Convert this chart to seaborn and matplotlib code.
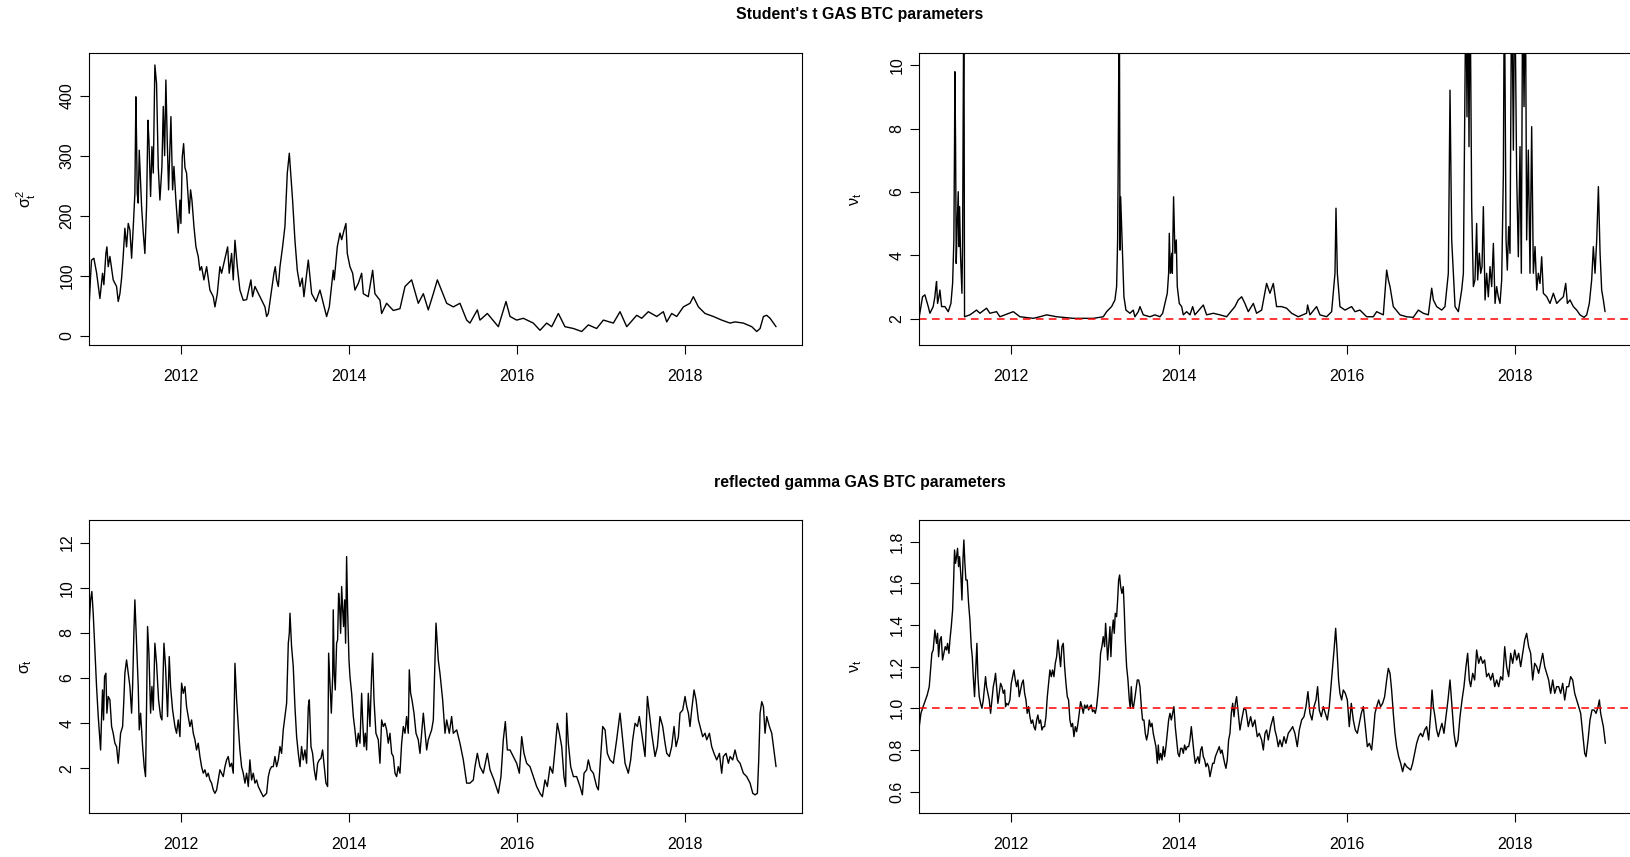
import numpy as np
import pandas as pd
import matplotlib
matplotlib.use("Agg")
import matplotlib.pyplot as plt
import seaborn as sns

# ---------------- data (decimal year, value) ----------------
TITLE_TOP = "Student's t GAS BTC parameters"
TITLE_BOTTOM = "reflected gamma GAS BTC parameters"
YEAR_TICKS = [2012, 2014, 2016, 2018]

# Student's t: sigma_t^2
T_SIGMA2 = [
    (2010.913, 54), (2010.929, 100), (2010.940, 126), (2010.968, 129), (2011.000, 105), (2011.040, 62), (2011.071, 104), (2011.087, 85), (2011.111, 137), (2011.123, 148),
    (2011.139, 115), (2011.159, 132), (2011.198, 93), (2011.238, 82), (2011.258, 57), (2011.278, 70), (2011.298, 96), (2011.317, 132), (2011.337, 179), (2011.357, 148),
    (2011.377, 187), (2011.397, 176), (2011.417, 129), (2011.437, 182), (2011.456, 237), (2011.468, 398), (2011.476, 326), (2011.484, 237), (2011.496, 221), (2011.508, 309),
    (2011.536, 215), (2011.556, 171), (2011.575, 137), (2011.595, 215), (2011.611, 359), (2011.623, 326), (2011.643, 232), (2011.659, 315), (2011.675, 271), (2011.694, 451),
    (2011.714, 420), (2011.734, 282), (2011.754, 226), (2011.778, 282), (2011.794, 382), (2011.810, 300), (2011.825, 426), (2011.841, 326), (2011.857, 243), (2011.885, 365),
    (2011.905, 243), (2011.921, 282), (2011.944, 226), (2011.972, 171), (2011.992, 226), (2012.004, 187), (2012.020, 298), (2012.036, 320), (2012.052, 280), (2012.071, 271),
    (2012.103, 204), (2012.119, 243), (2012.135, 226), (2012.159, 182), (2012.183, 148), (2012.210, 132), (2012.230, 109), (2012.250, 115), (2012.278, 93), (2012.310, 115),
    (2012.349, 76), (2012.389, 65), (2012.409, 48), (2012.437, 70), (2012.468, 115), (2012.488, 104), (2012.560, 148), (2012.579, 104), (2012.607, 137), (2012.627, 93),
    (2012.647, 159), (2012.675, 115), (2012.706, 76), (2012.746, 59), (2012.786, 60), (2012.837, 93), (2012.857, 65), (2012.885, 82), (2012.944, 65), (2013.004, 48),
    (2013.024, 32), (2013.044, 37), (2013.083, 76), (2013.111, 104), (2013.127, 115), (2013.143, 93), (2013.163, 82), (2013.183, 115), (2013.214, 148), (2013.242, 182),
    (2013.270, 271), (2013.294, 304), (2013.310, 271), (2013.333, 226), (2013.361, 159), (2013.389, 109), (2013.421, 82), (2013.448, 96), (2013.468, 65), (2013.520, 126),
    (2013.560, 70), (2013.611, 57), (2013.659, 76), (2013.679, 65), (2013.738, 32), (2013.770, 48), (2013.817, 109), (2013.829, 93), (2013.865, 148), (2013.897, 171),
    (2013.917, 160), (2013.944, 175), (2013.968, 187), (2013.984, 137), (2014.016, 115), (2014.048, 104), (2014.075, 76), (2014.115, 87), (2014.155, 104), (2014.175, 70),
    (2014.234, 65), (2014.286, 109), (2014.313, 70), (2014.373, 59), (2014.393, 37), (2014.452, 54), (2014.532, 42), (2014.611, 45), (2014.671, 82), (2014.750, 93),
    (2014.829, 54), (2014.889, 70), (2014.948, 43), (2015.008, 70), (2015.056, 93), (2015.087, 82), (2015.167, 54), (2015.246, 48), (2015.325, 54), (2015.405, 26),
    (2015.444, 21), (2015.532, 43), (2015.563, 26), (2015.651, 37), (2015.782, 15), (2015.873, 57), (2015.921, 32), (2016.000, 26), (2016.079, 29), (2016.198, 21),
    (2016.278, 9), (2016.357, 21), (2016.417, 15), (2016.496, 37), (2016.575, 15), (2016.675, 12), (2016.774, 7), (2016.853, 18), (2016.952, 12), (2017.032, 26),
    (2017.151, 21), (2017.230, 40), (2017.310, 15), (2017.429, 34), (2017.488, 29), (2017.567, 40), (2017.667, 32), (2017.746, 40), (2017.786, 23), (2017.845, 37),
    (2017.905, 32), (2017.984, 48), (2018.063, 54), (2018.103, 65), (2018.163, 48), (2018.242, 37), (2018.341, 32), (2018.440, 26), (2018.540, 21), (2018.599, 23),
    (2018.698, 21), (2018.798, 15), (2018.857, 7), (2018.897, 12), (2018.937, 32), (2018.976, 34), (2019.016, 29), (2019.087, 15),
]

# Student's t: nu_t (values above the axis limit are clipped in the reference)
T_NU = [
    (2010.913, 2.07), (2010.952, 2.70), (2010.980, 2.76), (2011.020, 2.39), (2011.040, 2.18), (2011.079, 2.39), (2011.099, 2.70), (2011.111, 3.02), (2011.119, 3.18), (2011.131, 2.49),
    (2011.147, 2.70), (2011.159, 2.91), (2011.179, 2.39), (2011.218, 2.39), (2011.258, 2.23), (2011.290, 2.49), (2011.310, 3.12), (2011.325, 4.49), (2011.333, 7.64), (2011.337, 9.79),
    (2011.345, 7.64), (2011.353, 3.75), (2011.365, 5.01), (2011.377, 6.01), (2011.385, 4.28), (2011.393, 5.54), (2011.405, 3.96), (2011.421, 2.81), (2011.429, 4.49), (2011.437, 8.69),
    (2011.444, 13.0), (2011.452, 2.07), (2011.516, 2.13), (2011.595, 2.28), (2011.635, 2.18), (2011.714, 2.34), (2011.754, 2.18), (2011.833, 2.23), (2011.873, 2.07), (2012.032, 2.23),
    (2012.111, 2.07), (2012.270, 2.02), (2012.349, 2.07), (2012.429, 2.13), (2012.548, 2.07), (2012.746, 2.02), (2012.984, 2.02), (2013.103, 2.07), (2013.143, 2.23), (2013.202, 2.39),
    (2013.242, 2.60), (2013.262, 3.02), (2013.274, 4.49), (2013.282, 7.32), (2013.294, 13.0), (2013.302, 4.17), (2013.310, 5.85), (2013.333, 3.96), (2013.349, 2.70), (2013.373, 2.28),
    (2013.421, 2.18), (2013.460, 2.28), (2013.480, 2.07), (2013.520, 2.23), (2013.540, 2.39), (2013.579, 2.13), (2013.659, 2.07), (2013.718, 2.13), (2013.778, 2.07), (2013.810, 2.18),
    (2013.837, 2.49), (2013.865, 2.81), (2013.881, 3.44), (2013.889, 4.70), (2013.901, 3.44), (2013.917, 4.07), (2013.925, 3.44), (2013.940, 5.85), (2013.956, 4.07), (2013.972, 4.49),
    (2013.984, 3.02), (2014.008, 2.49), (2014.036, 2.39), (2014.056, 2.13), (2014.095, 2.23), (2014.135, 2.13), (2014.167, 2.39), (2014.194, 2.13), (2014.294, 2.44), (2014.333, 2.13),
    (2014.413, 2.18), (2014.492, 2.13), (2014.571, 2.07), (2014.670, 2.39), (2014.710, 2.60), (2014.750, 2.70), (2014.789, 2.49), (2014.829, 2.23), (2014.889, 2.49), (2014.928, 2.18),
    (2014.988, 2.28), (2015.047, 3.12), (2015.087, 2.81), (2015.127, 3.12), (2015.166, 2.39), (2015.226, 2.39), (2015.285, 2.34), (2015.345, 2.18), (2015.424, 2.07), (2015.523, 2.18),
    (2015.535, 2.44), (2015.563, 2.13), (2015.642, 2.39), (2015.682, 2.13), (2015.761, 2.07), (2015.821, 2.23), (2015.861, 3.44), (2015.873, 5.49), (2015.889, 3.44), (2015.920, 2.39),
    (2015.980, 2.28), (2016.059, 2.39), (2016.099, 2.23), (2016.158, 2.28), (2016.238, 2.07), (2016.317, 2.07), (2016.357, 2.23), (2016.436, 2.13), (2016.476, 3.54), (2016.496, 3.23),
    (2016.516, 3.02), (2016.555, 2.39), (2016.635, 2.13), (2016.714, 2.07), (2016.793, 2.05), (2016.853, 2.28), (2016.912, 2.18), (2016.972, 2.13), (2017.012, 2.97), (2017.032, 2.60),
    (2017.071, 2.39), (2017.131, 2.28), (2017.170, 2.39), (2017.210, 3.44), (2017.230, 9.21), (2017.250, 4.49), (2017.290, 2.39), (2017.329, 2.23), (2017.369, 2.91), (2017.389, 3.44),
    (2017.420, 13.0), (2017.432, 8.37), (2017.444, 13.0), (2017.456, 7.43), (2017.468, 13.0), (2017.488, 5.54), (2017.508, 3.02), (2017.527, 3.23), (2017.547, 5.01), (2017.559, 3.23),
    (2017.579, 4.07), (2017.595, 3.44), (2017.611, 3.65), (2017.627, 5.54), (2017.647, 2.60), (2017.666, 3.44), (2017.686, 2.70), (2017.706, 3.65), (2017.726, 3.02), (2017.746, 4.38),
    (2017.766, 2.49), (2017.785, 3.02), (2017.805, 2.70), (2017.825, 2.49), (2017.845, 3.23), (2017.865, 6.59), (2017.877, 13.0), (2017.897, 4.49), (2017.912, 3.54), (2017.928, 4.91),
    (2017.944, 4.07), (2017.964, 13.0), (2017.984, 7.32), (2018.000, 13.0), (2018.023, 6.59), (2018.043, 3.96), (2018.063, 7.43), (2018.079, 3.44), (2018.095, 13.0), (2018.111, 8.69),
    (2018.127, 13.0), (2018.142, 4.49), (2018.162, 7.32), (2018.182, 3.44), (2018.202, 8.06), (2018.222, 3.44), (2018.242, 4.28), (2018.262, 2.91), (2018.281, 3.44), (2018.301, 3.12),
    (2018.321, 3.96), (2018.341, 2.81), (2018.381, 2.70), (2018.420, 2.49), (2018.460, 2.81), (2018.500, 2.49), (2018.539, 2.60), (2018.579, 2.70), (2018.607, 3.12), (2018.627, 2.49),
    (2018.658, 2.60), (2018.698, 2.39), (2018.738, 2.28), (2018.777, 2.13), (2018.825, 2.05), (2018.857, 2.13), (2018.888, 2.49), (2018.916, 3.23), (2018.936, 4.28), (2018.956, 3.44),
    (2018.976, 4.49), (2018.996, 6.17), (2019.016, 4.07), (2019.035, 2.91), (2019.055, 2.60), (2019.075, 2.23),
]

# reflected gamma: sigma_t
G_SIGMA = [
    (2010.913, 8.43), (2010.929, 9.46), (2010.944, 9.83), (2010.960, 8.87), (2010.980, 7.24), (2011.000, 5.62), (2011.020, 4.29), (2011.040, 3.26), (2011.048, 2.81), (2011.060, 4.29),
    (2011.071, 5.47), (2011.083, 4.14), (2011.095, 6.06), (2011.111, 6.21), (2011.123, 4.44), (2011.139, 5.18), (2011.159, 5.03), (2011.179, 3.85), (2011.198, 3.55), (2011.218, 3.11),
    (2011.238, 2.96), (2011.258, 2.22), (2011.270, 2.81), (2011.286, 3.55), (2011.310, 3.85), (2011.325, 5.03), (2011.337, 6.21), (2011.357, 6.80), (2011.377, 6.21), (2011.397, 5.62),
    (2011.417, 4.44), (2011.429, 5.62), (2011.444, 7.98), (2011.456, 9.46), (2011.476, 7.54), (2011.496, 5.62), (2011.508, 3.70), (2011.524, 4.44), (2011.548, 2.96), (2011.567, 2.07),
    (2011.583, 1.63), (2011.595, 4.73), (2011.607, 8.28), (2011.623, 7.10), (2011.643, 4.44), (2011.659, 5.62), (2011.675, 4.58), (2011.694, 7.54), (2011.714, 6.65), (2011.738, 5.03),
    (2011.762, 4.29), (2011.778, 4.14), (2011.802, 7.54), (2011.821, 6.51), (2011.845, 4.29), (2011.865, 6.95), (2011.881, 5.62), (2011.905, 4.58), (2011.933, 3.85), (2011.952, 3.55),
    (2011.972, 4.14), (2011.992, 3.40), (2012.012, 5.77), (2012.032, 5.32), (2012.052, 5.62), (2012.071, 4.73), (2012.091, 4.29), (2012.111, 3.85), (2012.131, 4.14), (2012.151, 3.55),
    (2012.171, 3.26), (2012.190, 2.81), (2012.210, 3.11), (2012.230, 2.52), (2012.250, 2.07), (2012.270, 1.78), (2012.290, 1.93), (2012.310, 1.63), (2012.329, 1.78), (2012.349, 1.48),
    (2012.369, 1.34), (2012.389, 1.04), (2012.409, 0.89), (2012.429, 1.04), (2012.448, 1.48), (2012.468, 1.93), (2012.488, 1.78), (2012.508, 1.63), (2012.528, 2.07), (2012.548, 2.37),
    (2012.567, 2.52), (2012.587, 2.07), (2012.607, 2.22), (2012.627, 1.78), (2012.647, 6.65), (2012.667, 5.03), (2012.687, 3.85), (2012.706, 2.81), (2012.726, 2.07), (2012.746, 1.78),
    (2012.766, 1.34), (2012.786, 1.78), (2012.806, 1.19), (2012.825, 2.37), (2012.845, 1.48), (2012.865, 1.78), (2012.885, 1.34), (2012.905, 1.48), (2012.925, 1.19), (2012.944, 1.04),
    (2012.984, 0.74), (2013.024, 0.89), (2013.044, 1.63), (2013.063, 1.93), (2013.083, 2.07), (2013.103, 2.07), (2013.123, 2.52), (2013.143, 2.07), (2013.163, 2.37), (2013.183, 2.96),
    (2013.202, 2.66), (2013.222, 3.70), (2013.242, 4.29), (2013.262, 4.88), (2013.282, 7.54), (2013.294, 7.98), (2013.302, 8.87), (2013.321, 7.39), (2013.341, 6.51), (2013.361, 4.73),
    (2013.381, 3.40), (2013.401, 2.66), (2013.421, 2.07), (2013.440, 2.96), (2013.460, 2.37), (2013.480, 2.81), (2013.500, 2.22), (2013.520, 4.73), (2013.532, 5.03), (2013.552, 2.96),
    (2013.571, 2.66), (2013.591, 1.93), (2013.611, 1.48), (2013.631, 2.22), (2013.651, 2.37), (2013.671, 2.44), (2013.690, 2.81), (2013.710, 2.07), (2013.730, 1.34), (2013.750, 1.19),
    (2013.762, 7.10), (2013.778, 5.77), (2013.794, 4.44), (2013.810, 6.06), (2013.817, 9.02), (2013.829, 6.21), (2013.841, 5.47), (2013.857, 7.54), (2013.869, 7.69), (2013.881, 9.75),
    (2013.893, 9.16), (2013.905, 7.98), (2013.917, 10.05), (2013.929, 9.02), (2013.940, 8.28), (2013.952, 9.46), (2013.964, 7.54), (2013.976, 11.38), (2013.988, 9.02), (2014.004, 6.80),
    (2014.016, 6.06), (2014.036, 5.32), (2014.056, 4.29), (2014.075, 3.70), (2014.095, 2.96), (2014.115, 3.55), (2014.135, 3.11), (2014.155, 5.32), (2014.167, 4.14), (2014.183, 2.96),
    (2014.198, 3.55), (2014.214, 2.81), (2014.234, 5.32), (2014.254, 3.85), (2014.274, 6.21), (2014.286, 7.10), (2014.302, 5.03), (2014.325, 3.55), (2014.353, 3.26), (2014.373, 2.22),
    (2014.393, 4.14), (2014.413, 3.85), (2014.433, 3.99), (2014.452, 3.70), (2014.472, 3.11), (2014.492, 3.55), (2014.512, 2.66), (2014.532, 2.52), (2014.552, 1.78), (2014.571, 1.63),
    (2014.591, 2.07), (2014.611, 1.78), (2014.631, 3.11), (2014.651, 3.85), (2014.671, 3.55), (2014.690, 4.29), (2014.710, 3.55), (2014.722, 6.36), (2014.738, 5.32), (2014.754, 5.03),
    (2014.778, 4.44), (2014.802, 3.55), (2014.829, 3.26), (2014.849, 2.66), (2014.869, 3.55), (2014.889, 4.44), (2014.929, 2.81), (2014.948, 3.26), (2014.988, 3.70), (2015.008, 4.14),
    (2015.040, 8.43), (2015.067, 6.80), (2015.087, 6.21), (2015.119, 5.03), (2015.147, 3.55), (2015.167, 4.14), (2015.198, 3.55), (2015.226, 4.29), (2015.246, 3.55), (2015.286, 3.70),
    (2015.325, 3.11), (2015.365, 2.37), (2015.405, 1.34), (2015.444, 1.34), (2015.484, 1.48), (2015.504, 2.07), (2015.532, 2.66), (2015.563, 2.07), (2015.603, 1.78), (2015.651, 2.66),
    (2015.683, 1.93), (2015.730, 1.48), (2015.782, 0.89), (2015.813, 1.63), (2015.841, 3.26), (2015.865, 4.07), (2015.889, 2.81), (2015.921, 2.81), (2015.960, 2.52), (2016.000, 2.22),
    (2016.032, 1.78), (2016.060, 3.40), (2016.087, 2.66), (2016.119, 2.22), (2016.159, 2.07), (2016.198, 1.63), (2016.238, 1.19), (2016.278, 0.89), (2016.306, 0.74), (2016.337, 1.48),
    (2016.365, 1.19), (2016.397, 2.07), (2016.429, 1.78), (2016.456, 2.81), (2016.484, 3.99), (2016.508, 3.55), (2016.536, 2.96), (2016.563, 1.63), (2016.583, 1.19), (2016.595, 4.44),
    (2016.615, 3.11), (2016.643, 2.07), (2016.675, 1.63), (2016.714, 1.63), (2016.754, 1.19), (2016.782, 0.82), (2016.802, 1.78), (2016.833, 1.93), (2016.853, 2.37), (2016.881, 1.93),
    (2016.913, 1.78), (2016.952, 1.19), (2016.972, 1.04), (2016.992, 2.07), (2017.024, 3.85), (2017.052, 3.70), (2017.079, 2.66), (2017.111, 2.37), (2017.151, 2.22), (2017.190, 3.26),
    (2017.230, 4.44), (2017.262, 3.26), (2017.290, 2.22), (2017.329, 1.78), (2017.357, 2.37), (2017.381, 3.26), (2017.409, 3.99), (2017.437, 3.85), (2017.460, 4.29), (2017.488, 3.55),
    (2017.528, 2.52), (2017.556, 5.18), (2017.579, 4.44), (2017.607, 3.55), (2017.647, 2.52), (2017.675, 2.96), (2017.706, 4.29), (2017.738, 3.85), (2017.766, 3.11), (2017.786, 2.66),
    (2017.817, 2.52), (2017.845, 2.96), (2017.873, 3.85), (2017.897, 2.96), (2017.925, 3.40), (2017.944, 4.44), (2017.976, 4.58), (2018.004, 5.18), (2018.024, 4.73), (2018.044, 4.44),
    (2018.063, 3.85), (2018.083, 4.58), (2018.111, 5.47), (2018.135, 5.03), (2018.163, 4.14), (2018.183, 3.85), (2018.214, 3.40), (2018.242, 3.55), (2018.262, 3.26), (2018.294, 3.55),
    (2018.321, 2.96), (2018.349, 2.66), (2018.381, 2.37), (2018.413, 2.66), (2018.440, 1.78), (2018.460, 2.52), (2018.492, 2.66), (2018.520, 2.22), (2018.540, 2.52), (2018.571, 2.37),
    (2018.599, 2.81), (2018.627, 2.37), (2018.659, 2.22), (2018.698, 1.78), (2018.738, 1.63), (2018.778, 1.34), (2018.810, 0.89), (2018.837, 0.82), (2018.865, 0.89), (2018.881, 2.37),
    (2018.897, 4.44), (2018.917, 4.95), (2018.937, 4.73), (2018.956, 3.55), (2018.976, 4.29), (2019.008, 3.85), (2019.036, 3.55), (2019.056, 2.96), (2019.087, 2.07),
]

# reflected gamma: nu_t
G_NU = [
    (2010.913, 0.912), (2010.933, 0.976), (2010.952, 1.000), (2010.980, 1.032), (2011.008, 1.064), (2011.032, 1.104), (2011.048, 1.184), (2011.063, 1.264), (2011.079, 1.280), (2011.099, 1.376),
    (2011.119, 1.312), (2011.131, 1.360), (2011.143, 1.248), (2011.159, 1.328), (2011.175, 1.344), (2011.190, 1.232), (2011.206, 1.264), (2011.222, 1.296), (2011.238, 1.280), (2011.250, 1.312),
    (2011.266, 1.264), (2011.278, 1.328), (2011.294, 1.392), (2011.310, 1.472), (2011.321, 1.600), (2011.333, 1.760), (2011.345, 1.696), (2011.357, 1.728), (2011.369, 1.768), (2011.381, 1.680),
    (2011.393, 1.728), (2011.409, 1.632), (2011.421, 1.520), (2011.433, 1.712), (2011.444, 1.808), (2011.456, 1.696), (2011.468, 1.616), (2011.484, 1.616), (2011.500, 1.504), (2011.516, 1.424),
    (2011.532, 1.296), (2011.544, 1.248), (2011.556, 1.152), (2011.571, 1.056), (2011.587, 1.200), (2011.599, 1.312), (2011.611, 1.152), (2011.627, 1.056), (2011.643, 1.024), (2011.659, 1.000),
    (2011.675, 1.040), (2011.690, 1.104), (2011.702, 1.152), (2011.714, 1.104), (2011.730, 1.072), (2011.746, 1.040), (2011.762, 0.976), (2011.778, 1.040), (2011.794, 1.104), (2011.810, 1.136),
    (2011.821, 1.168), (2011.833, 1.104), (2011.849, 1.024), (2011.865, 1.072), (2011.881, 1.120), (2011.897, 1.104), (2011.913, 1.072), (2011.929, 1.088), (2011.940, 1.008), (2011.952, 1.024),
    (2011.972, 1.016), (2011.992, 1.040),
    (2012.008, 1.120), (2012.024, 1.152), (2012.040, 1.184), (2012.056, 1.136), (2012.071, 1.104), (2012.087, 1.136), (2012.103, 1.056), (2012.119, 1.088), (2012.135, 1.120), (2012.151, 1.136),
    (2012.167, 1.072), (2012.183, 1.040), (2012.198, 0.976), (2012.214, 1.008), (2012.230, 0.960), (2012.246, 0.928), (2012.262, 0.944), (2012.278, 0.912), (2012.294, 0.896), (2012.310, 0.944),
    (2012.325, 0.968), (2012.341, 0.928), (2012.357, 0.944), (2012.373, 0.896), (2012.389, 0.912), (2012.405, 0.912), (2012.421, 0.960), (2012.437, 1.056), (2012.452, 1.120), (2012.468, 1.184),
    (2012.484, 1.152), (2012.500, 1.184), (2012.516, 1.152), (2012.532, 1.216), (2012.548, 1.248), (2012.563, 1.328), (2012.579, 1.264), (2012.595, 1.200), (2012.611, 1.296), (2012.627, 1.312),
    (2012.643, 1.200), (2012.659, 1.120), (2012.675, 1.056), (2012.690, 1.040), (2012.706, 0.944), (2012.722, 0.912), (2012.738, 0.928), (2012.754, 0.864), (2012.770, 0.912), (2012.786, 0.888),
    (2012.802, 0.928), (2012.817, 0.976), (2012.833, 1.032), (2012.849, 1.008), (2012.865, 0.976), (2012.881, 1.016), (2012.897, 1.000), (2012.913, 1.016), (2012.929, 0.992), (2012.944, 1.008),
    (2012.960, 1.016), (2012.976, 0.984), (2012.992, 0.992), (2013.008, 0.976), (2013.024, 1.008), (2013.040, 1.072), (2013.056, 1.152), (2013.071, 1.264), (2013.087, 1.296), (2013.103, 1.344),
    (2013.119, 1.296),
    (2013.131, 1.408), (2013.143, 1.328), (2013.155, 1.232), (2013.167, 1.296), (2013.183, 1.392), (2013.194, 1.248), (2013.206, 1.360), (2013.222, 1.424), (2013.234, 1.360), (2013.246, 1.456),
    (2013.262, 1.440), (2013.274, 1.520), (2013.286, 1.616), (2013.298, 1.640), (2013.310, 1.584), (2013.325, 1.552), (2013.341, 1.584), (2013.353, 1.472), (2013.365, 1.328), (2013.381, 1.200),
    (2013.397, 1.136), (2013.413, 1.040), (2013.425, 1.000), (2013.437, 1.104), (2013.448, 1.024), (2013.460, 1.000), (2013.476, 1.040), (2013.492, 1.088), (2013.508, 1.136), (2013.524, 1.136),
    (2013.540, 1.104), (2013.556, 1.008), (2013.571, 0.944), (2013.587, 0.944), (2013.603, 0.880), (2013.619, 0.848), (2013.635, 0.880), (2013.651, 0.944), (2013.667, 0.912), (2013.683, 0.928),
    (2013.698, 0.880), (2013.714, 0.848), (2013.730, 0.816), (2013.746, 0.736), (2013.758, 0.824), (2013.770, 0.752), (2013.786, 0.784), (2013.802, 0.752), (2013.817, 0.816), (2013.833, 0.768),
    (2013.849, 0.816), (2013.865, 0.880), (2013.881, 0.944), (2013.897, 0.976), (2013.913, 0.944), (2013.929, 0.976), (2013.944, 1.008), (2013.960, 0.912), (2013.976, 0.848), (2013.992, 0.784),
    (2014.008, 0.768), (2014.024, 0.808), (2014.040, 0.808), (2014.056, 0.784), (2014.071, 0.824), (2014.087, 0.800), (2014.103, 0.816), (2014.119, 0.816), (2014.135, 0.848), (2014.151, 0.912),
    (2014.167, 0.848), (2014.183, 0.784), (2014.198, 0.736), (2014.214, 0.752), (2014.230, 0.768), (2014.246, 0.736), (2014.262, 0.800), (2014.278, 0.816), (2014.294, 0.768), (2014.310, 0.752),
    (2014.325, 0.720), (2014.341, 0.736), (2014.357, 0.720), (2014.373, 0.672), (2014.389, 0.704), (2014.405, 0.736), (2014.421, 0.736), (2014.437, 0.768), (2014.452, 0.784), (2014.468, 0.800),
    (2014.484, 0.816), (2014.500, 0.784), (2014.516, 0.800), (2014.532, 0.768), (2014.548, 0.736), (2014.563, 0.712), (2014.579, 0.752), (2014.595, 0.848), (2014.611, 0.880), (2014.627, 0.976),
    (2014.643, 1.024), (2014.659, 0.960), (2014.675, 1.024), (2014.690, 1.056), (2014.710, 0.976), (2014.730, 0.896),
    (2014.750, 0.944), (2014.777, 1.000), (2014.801, 0.992), (2014.829, 0.912), (2014.857, 0.960), (2014.881, 0.912), (2014.908, 0.944), (2014.936, 0.864), (2014.960, 0.880), (2014.988, 0.848),
    (2015.008, 0.800), (2015.028, 0.880), (2015.047, 0.896), (2015.067, 0.848), (2015.095, 0.912), (2015.127, 0.960), (2015.146, 0.896), (2015.166, 0.864), (2015.186, 0.816), (2015.206, 0.848),
    (2015.230, 0.816), (2015.254, 0.864), (2015.277, 0.832), (2015.305, 0.880), (2015.333, 0.896), (2015.357, 0.912), (2015.384, 0.880), (2015.412, 0.816), (2015.436, 0.896), (2015.464, 0.944),
    (2015.492, 0.960), (2015.516, 1.008), (2015.539, 1.080), (2015.563, 0.976), (2015.587, 0.944), (2015.611, 1.008), (2015.635, 1.040), (2015.654, 1.104), (2015.674, 0.992), (2015.698, 0.960),
    (2015.722, 1.008), (2015.746, 0.976), (2015.770, 0.944), (2015.793, 1.008), (2015.813, 1.104), (2015.833, 1.200), (2015.853, 1.296), (2015.869, 1.384), (2015.885, 1.280), (2015.904, 1.136),
    (2015.920, 1.072), (2015.940, 1.040), (2015.960, 1.088), (2015.984, 1.072), (2016.008, 1.040), (2016.031, 0.912), (2016.055, 1.024), (2016.079, 0.944), (2016.103, 0.896), (2016.127, 0.880),
    (2016.150, 0.928), (2016.174, 0.976), (2016.198, 1.008), (2016.222, 0.912), (2016.246, 0.816), (2016.270, 0.832), (2016.297, 0.800), (2016.317, 0.880), (2016.337, 0.976), (2016.357, 1.008),
    (2016.381, 1.040), (2016.404, 1.008), (2016.428, 1.024), (2016.452, 1.056), (2016.476, 1.136), (2016.496, 1.192), (2016.516, 1.168), (2016.535, 1.088), (2016.555, 0.976), (2016.575, 0.880),
    (2016.595, 0.816), (2016.619, 0.768), (2016.643, 0.736), (2016.666, 0.696), (2016.690, 0.736), (2016.714, 0.720), (2016.738, 0.712), (2016.762, 0.704), (2016.785, 0.736), (2016.809, 0.784),
    (2016.833, 0.832), (2016.857, 0.864), (2016.881, 0.880), (2016.904, 0.864), (2016.928, 0.896), (2016.952, 0.912), (2016.976, 0.848), (2017.000, 0.976), (2017.016, 1.088), (2017.032, 1.008),
    (2017.051, 0.960), (2017.071, 0.896), (2017.091, 0.864), (2017.111, 0.896), (2017.134, 0.928), (2017.158, 0.880), (2017.182, 0.960), (2017.206, 1.040), (2017.230, 1.136), (2017.254, 1.008),
    (2017.277, 0.880), (2017.301, 0.816), (2017.325, 0.848), (2017.349, 0.960), (2017.373, 1.040), (2017.396, 1.104), (2017.420, 1.200), (2017.440, 1.264), (2017.460, 1.136), (2017.476, 1.104),
    (2017.500, 1.168), (2017.523, 1.136), (2017.547, 1.280), (2017.571, 1.216), (2017.595, 1.248), (2017.619, 1.216), (2017.642, 1.232), (2017.666, 1.152), (2017.690, 1.168), (2017.714, 1.136),
    (2017.738, 1.168), (2017.762, 1.104), (2017.785, 1.136), (2017.809, 1.104), (2017.833, 1.152), (2017.857, 1.136), (2017.881, 1.296), (2017.904, 1.200), (2017.928, 1.152), (2017.952, 1.264),
    (2017.976, 1.216), (2018.000, 1.280), (2018.023, 1.232), (2018.047, 1.264), (2018.071, 1.200), (2018.095, 1.264), (2018.119, 1.328), (2018.142, 1.360), (2018.166, 1.296), (2018.190, 1.264),
    (2018.214, 1.136), (2018.238, 1.216), (2018.262, 1.200), (2018.285, 1.168), (2018.309, 1.216), (2018.333, 1.264), (2018.357, 1.200), (2018.380, 1.168), (2018.404, 1.136), (2018.428, 1.072),
    (2018.452, 1.136), (2018.476, 1.072), (2018.500, 1.104), (2018.523, 1.104), (2018.547, 1.072), (2018.571, 1.120), (2018.595, 1.040), (2018.619, 1.104), (2018.642, 1.104), (2018.666, 1.152),
    (2018.690, 1.136), (2018.714, 1.072), (2018.738, 1.040), (2018.761, 1.008), (2018.785, 0.976), (2018.809, 0.880), (2018.833, 0.784), (2018.849, 0.768), (2018.873, 0.848), (2018.896, 0.944),
    (2018.920, 0.992), (2018.944, 0.992), (2018.968, 0.976), (2018.992, 1.008), (2019.008, 1.040), (2019.023, 0.976), (2019.039, 0.944), (2019.055, 0.912), (2019.079, 0.832),
]

# ---------------- styling ----------------
sns.set_theme(style="white")
plt.rcParams['font.family'] = ['Liberation Sans', 'DejaVu Sans']
plt.rcParams['mathtext.fontset'] = 'custom'
plt.rcParams['mathtext.rm'] = 'Liberation Sans'
plt.rcParams['mathtext.it'] = 'Liberation Sans'
plt.rcParams['mathtext.bf'] = 'Liberation Sans:bold'

W, H = 1631, 857
fig = plt.figure(figsize=(W / 100, H / 100), dpi=100)
fig.patch.set_facecolor('white')

XLIM = (2010.910, 2019.396)


def rect(x0, y0, x1, y1):
    return [x0 / W, 1 - y1 / H, (x1 - x0) / W, (y1 - y0) / H]


def panel(r, pts, ylim, yticks, yticklabels, ylabel, hline=None):
    ax = fig.add_axes(r)
    df = pd.DataFrame(pts, columns=['year', 'value'])
    sns.lineplot(data=df, x='year', y='value', ax=ax, color='black',
                 linewidth=1.0, estimator=None, sort=False)
    if hline is not None:
        ax.axhline(hline, color='#ff0000', linewidth=1.1, linestyle=(0, (5, 3.5)))
    ax.set_xlim(*XLIM)
    ax.set_ylim(*ylim)
    ax.set_xticks(YEAR_TICKS)
    ax.set_xticklabels([str(y) for y in YEAR_TICKS])
    ax.set_yticks(yticks)
    ax.set_yticklabels(yticklabels)
    ax.set_xlabel('')
    ax.set_ylabel(ylabel, fontsize=11.5, color='black')
    ax.yaxis.set_label_coords(-0.088, 0.5)
    ax.yaxis.label.set_va('center')
    ax.tick_params(axis='both', direction='out', length=6.5, width=0.8,
                   colors='black', labelsize=11.5,
                   bottom=True, left=True, top=False, right=False)
    ax.tick_params(axis='x', pad=11)
    ax.tick_params(axis='y', labelrotation=90, pad=4)
    for lab in ax.get_yticklabels():
        lab.set_va('center')
    for s in ax.spines.values():
        s.set_visible(True)
        s.set_color('black')
        s.set_linewidth(0.8)
    ax.grid(False)
    ax.set_facecolor('white')
    return ax


panel(rect(89, 53, 802, 345), T_SIGMA2, (-15.5, 471),
      [0, 100, 200, 300, 400], ['0', '100', '200', '300', '400'], r'$\sigma_t^2$')
panel(rect(919, 53, 1632, 345), T_NU, (1.18, 10.38),
      [2, 4, 6, 8, 10], ['2', '4', '6', '8', '10'], r'$\nu_t$', hline=2)
panel(rect(89, 520, 802, 812.7), G_SIGMA, (0.03, 13.0),
      [2, 4, 6, 8, 10, 12], ['2', '4', '6', '8', '10', '12'], r'$\sigma_t$')
panel(rect(919, 520, 1632, 812.7), G_NU, (0.499, 1.904),
      [0.6, 0.8, 1.0, 1.2, 1.4, 1.6, 1.8], ['0.6', '0.8', '1.0', '1.2', '1.4', '1.6', '1.8'],
      r'$\nu_t$', hline=1)

fig.text(860 / W, 1 - 15 / H, TITLE_TOP, ha='center', va='center',
         fontsize=11.4, fontweight='bold', color='black')
fig.text(860 / W, 1 - 482 / H, TITLE_BOTTOM, ha='center', va='center',
         fontsize=11.4, fontweight='bold', color='black')

fig.savefig('out.png', dpi=100, facecolor='white')
